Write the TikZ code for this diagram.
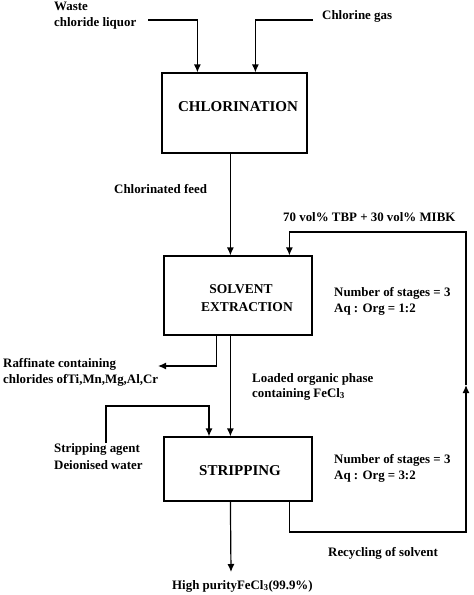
\documentclass[tikz,border=0pt]{standalone}
\usepackage{fontspec}
\setmainfont{Liberation Serif}
\usetikzlibrary{arrows.meta}

\tikzset{
    unit/.style={draw, line width=1.2pt, inner sep=0pt},
    flow/.style={line width=1.2pt, -{Latex[length=8pt,width=7pt]}},
    lbl/.style={anchor=base west, inner sep=0pt, font=\fontsize{12.9}{16}\selectfont\bfseries},
    title/.style={anchor=base, inner sep=0pt, font=\fontsize{15}{18}\selectfont\bfseries},
}

\begin{document}
\begin{tikzpicture}[x=1pt,y=-1pt]
        \useasboundingbox (0,0) rectangle (474,595);
        % units
        \node[unit, minimum width=145pt, minimum height=80pt] (chl) at (234.5,113) {};
        \node[unit, minimum width=148pt, minimum height=79pt] (sx) at (238,295.5) {};
        \node[unit, minimum width=148pt, minimum height=64pt] (strip) at (238,469) {};
        \node[title] (chltxt) at (238,111) {CHLORINATION};
        \node[title, font=\fontsize{13.5}{18}\selectfont\bfseries] (sxtxt1) at (241,293) {SOLVENT};
        \node[title, font=\fontsize{13.5}{18}\selectfont\bfseries] (sxtxt2) at (247,311) {EXTRACTION};
        \node[title] (striptxt) at (240,475) {STRIPPING};
        % free ends
        \coordinate (waste) at (148,20);
        \coordinate (gas) at (313,20);
        \coordinate (raf) at (158,366);
        \coordinate (agent) at (106,443);
        \coordinate (agentbend) at (209,406);
        \coordinate (prod) at (231,572);
        \coordinate (rc1) at (466,532);
        \coordinate (ret) at (466,385);
        \coordinate (rc2) at (466,232);
        % streams
        \draw[flow] (waste) -| ([xshift=36pt]chl.north west);
        \draw[flow] (gas) -| ([xshift=94pt]chl.north west);
        \draw[flow] ([xshift=69pt]chl.south west) coordinate (feed) -- (feed |- sx.north);
        \draw[flow] ([xshift=53pt]sx.south west) |- (raf);
        \draw[flow] ([xshift=67pt]sx.south west) coordinate (load) -- (load |- strip.north);
        \draw[flow] (agent) |- (agentbend) -- (agentbend |- strip.north);
        \draw[flow] ([xshift=67pt]strip.south west) -- (prod);
        \draw[flow] ([xshift=126pt]strip.south west) |- (rc1) -- (ret);
        \draw[flow] (ret) -- (rc2) -| ([xshift=126pt]sx.north west);
        % labels
        \node[lbl] (waste1) at (54,10) {Waste};
        \node[lbl] (waste2) at (54,26) {chloride liquor};
        \node[lbl] (gaslbl) at (322,19) {Chlorine gas};
        \node[lbl] (feedlbl) at (114,193) {Chlorinated feed};
        \node[lbl] (solvlbl) at (283,221) {70 vol\% TBP + 30 vol\% MIBK};
        \node[lbl] (sxcond1) at (334,296) {Number of stages = 3};
        \node[lbl] (sxcond2) at (334,312) {Aq : Org = 1:2};
        \node[lbl] (raf1) at (3,367) {Raffinate containing};
        \node[lbl] (raf2) at (3,383) {chlorides ofTi,Mn,Mg,Al,Cr};
        \node[lbl] (load1) at (252,382) {Loaded organic phase};
        \node[lbl] (load2) at (252,397) {containing FeCl\textsubscript{3}};
        \node[lbl] (agent1) at (54,452) {Stripping agent};
        \node[lbl] (agent2) at (54,469) {Deionised water};
        \node[lbl] (stcond1) at (334,463) {Number of stages = 3};
        \node[lbl] (stcond2) at (334,479) {Aq : Org = 3:2};
        \node[lbl] (reclbl) at (328,556) {Recycling of solvent};
        \node[lbl] (prodlbl) at (172,589) {High purityFeCl\textsubscript{3}(99.9\%)};
\end{tikzpicture}
\end{document}
